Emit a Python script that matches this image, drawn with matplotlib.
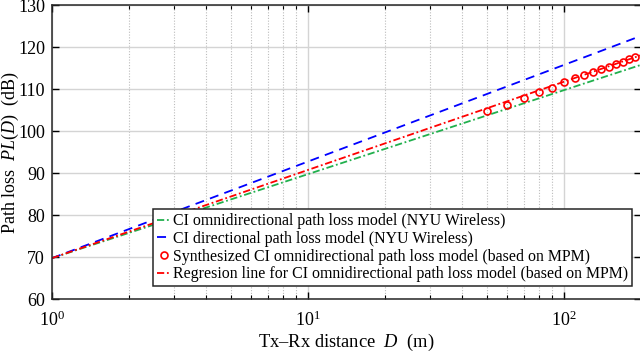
import numpy as np
import matplotlib
matplotlib.use("Agg")
import matplotlib.pyplot as plt
from matplotlib.ticker import LogLocator, FixedLocator

plt.rcParams['font.family'] = ['Liberation Serif', 'DejaVu Serif']
plt.rcParams['mathtext.fontset'] = 'custom'
plt.rcParams['mathtext.rm'] = 'Liberation Serif'
plt.rcParams['mathtext.it'] = 'Liberation Serif:italic'

# data
fspl_1m = 69.8
n_omni = 2.0
n_dir = 2.3
n_mpm = 2.1
d_synth = [50, 60, 70, 80, 90, 100, 110, 120, 130, 140, 150, 160, 170, 180, 190]
pl_synth = [104.9, 106.3, 108.0, 109.4, 110.4, 111.7, 112.6, 113.3, 114.2, 114.8,
            115.4, 116.0, 116.6, 117.2, 117.8]
labels = ["CI omnidirectional path loss model (NYU Wireless)",
          "CI directional path loss model (NYU Wireless)",
          "Synthesized CI omnidirectional path loss model (based on MPM)",
          "Regresion line for CI omnidirectional path loss model (based on MPM)"]

d = np.logspace(0, np.log10(200), 200)

fig = plt.figure(figsize=(6.4, 3.53), dpi=100)
ax = fig.add_axes([52/640, 1-299.3/353, 589/640, (299.3-5.3)/353])

green = (0.13, 0.69, 0.30)
l1, = ax.plot(d, fspl_1m + 10*n_omni*np.log10(d), color=green, ls=(0, (4, 1.5, 1, 1.5)), lw=1.3)
l2, = ax.plot(d, fspl_1m + 10*n_dir*np.log10(d), color='blue', ls=(0, (5, 3.5)), lw=1.3)
l4, = ax.plot(d, fspl_1m + 10*n_mpm*np.log10(d), color='red', ls=(0, (4, 1.5, 1, 1.5)), lw=1.3)
l3, = ax.plot(d_synth, pl_synth, ls='none', marker='o', ms=5, mfc='none', mec='red', mew=1.2)

ax.set_xscale('log')
ax.set_xlim(1, 200)
ax.set_ylim(60, 130)
ax.set_yticks(np.arange(60, 131, 10))
ax.xaxis.set_major_locator(FixedLocator([1, 10, 100]))
ax.set_xticklabels([r'$10^0$', r'$10^1$', r'$10^2$'])
ax.xaxis.set_minor_locator(LogLocator(base=10, subs=np.arange(2, 10), numticks=20))

ax.grid(True, which='major', color='#d4d4d4', lw=1.0, ls='-')
ax.grid(True, which='minor', axis='x', color='#bcbcbc', lw=0.8, ls=(0, (1, 1.5)))
ax.set_axisbelow(True)

ax.tick_params(which='both', direction='in', top=True, right=True, labelsize=13)
ax.tick_params(axis='y', pad=5)
ax.tick_params(axis='x', pad=8)
ax.tick_params(which='major', length=5, width=1)
ax.tick_params(which='minor', length=3, width=0.8)
for s in ax.spines.values():
    s.set_linewidth(1.1)
    s.set_color('#262626')

ax.set_xlabel(r'Tx–Rx distance  $\mathit{D}$  (m)', fontsize=13.3)
ax.xaxis.set_label_coords(0.5, -0.112)
ax.set_ylabel(r'Path loss  $\mathit{PL}(\mathit{D})$  (dB)', fontsize=13)
ax.yaxis.set_label_coords(-0.053, 0.5)

leg = ax.legend([l1, l2, l3, l4], labels, loc='lower right', bbox_to_anchor=(0.985, 0.045),
                fontsize=11.4, frameon=True, fancybox=False, framealpha=1, edgecolor='#262626',
                handlelength=0.85, handletextpad=0.15, borderpad=0.25, labelspacing=0.1,
                borderaxespad=0)
leg.get_frame().set_linewidth(1.1)

fig.savefig('out.png', dpi=100)
